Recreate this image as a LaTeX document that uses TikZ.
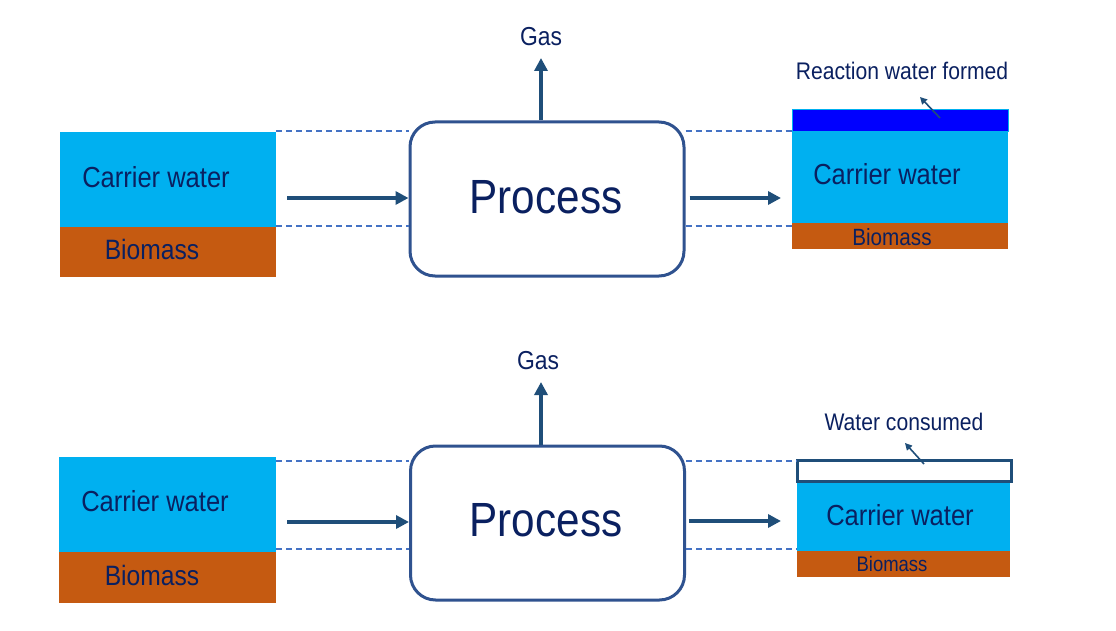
\documentclass[tikz,border=0pt]{standalone}
\usepackage{fontspec}
\setmainfont[FakeStretch=0.88]{Liberation Sans}
\usetikzlibrary{arrows.meta}
\definecolor{navy}{HTML}{0A2060}
\definecolor{arrcol}{HTML}{1F4E79}
\definecolor{procol}{HTML}{2F528F}
\definecolor{dashcol}{HTML}{4472C4}
\definecolor{water}{HTML}{00B0F0}
\definecolor{bio}{HTML}{C55A11}
\definecolor{rwater}{HTML}{0000FF}
\tikzset{
  fs/.style={font=\fontsize{#1}{#1}\selectfont},
  lbl/.style={text=navy, inner sep=0pt},
  layer/.style={draw=none, inner sep=0pt, anchor=north west},
  procbox/.style={draw=procol, line width=3pt, rounded corners=25pt, fill=white,
     minimum width=274pt, minimum height=154pt, inner sep=0pt, text=navy},
  proctext/.style={text=navy, inner sep=0pt, font=\fontsize{48}{48}\selectfont},
  arr/.style={draw=arrcol, line width=3.5pt, -{Triangle[length=13pt,width=13pt]}},
  thinarr/.style={draw=arrcol, line width=1.6pt, -{Triangle[length=7pt,width=7pt]}},
  dashln/.style={draw=dashcol, line width=1.4pt, dash pattern=on 6pt off 4pt},
}
\begin{document}
\begin{tikzpicture}[x=1pt,y=-1pt]
\useasboundingbox (0,0) rectangle (1116,631);
% ---------- top row ----------
\node[layer, fill=water, minimum width=216pt, minimum height=95pt] (cw1) at (60,132) {};
\node[layer, fill=bio, minimum width=216pt, minimum height=50pt] (bm1) at (60,227) {};
\node[lbl, fs=29] (tcw1) at (156,177) {Carrier water};
\node[lbl, fs=28] (tbm1) at (152,249) {Biomass};
\node[procbox] (p1) at (547,199) {};
\node[proctext] (pt1) at (546,197) {Process};
\coordinate (g1) at (541,58);
\node[lbl, fs=26] (gas1) at (541,37) {Gas};
\draw[arr] (p1.north -| g1) -- (g1);
\coordinate (a1s) at (287,198);
\draw[arr] (a1s) -- (a1s -| p1.west);
\node[layer, fill=rwater, draw=water, line width=0.6pt, minimum width=216pt, minimum height=22pt] (rw1) at (792,109) {};
\node[layer, fill=water, minimum width=216pt, minimum height=92pt] (cw2) at (792,131) {};
\node[layer, fill=bio, minimum width=216pt, minimum height=26pt] (bm2) at (792,223) {};
\node[lbl, fs=29] (tcw2) at (887,174) {Carrier water};
\node[lbl, fs=23.5] (tbm2) at (892,237) {Biomass};
\node[lbl, fs=24] (rwt) at (902,71) {Reaction water formed};
\coordinate (rws) at (940,118);
\coordinate (rwe) at (920,97);
\draw[thinarr] (rws) -- (rwe);
\coordinate (a2e) at (781,198);
\draw[arr] (p1.east |- a2e) ++(4,0) -- (a2e);
\coordinate (d1t) at (276,131);
\coordinate (d1b) at (276,226);
\draw[dashln] (d1t) -- (d1t -| p1.west);
\draw[dashln] (d1b) -- (d1b -| p1.west);
\draw[dashln] (d1t -| p1.east) -- (d1t -| cw2.west);
\draw[dashln] (d1b -| p1.east) -- (d1b -| cw2.west);
% ---------- bottom row ----------
\node[layer, fill=water, minimum width=217pt, minimum height=95pt] (cw3) at (59,457) {};
\node[layer, fill=bio, minimum width=217pt, minimum height=51pt] (bm3) at (59,552) {};
\node[lbl, fs=29] (tcw3) at (155,501) {Carrier water};
\node[lbl, fs=28] (tbm3) at (152,575) {Biomass};
\node[procbox] (p2) at (547.5,523) {};
\node[proctext] (pt2) at (546,520) {Process};
\coordinate (g2) at (541,382);
\node[lbl, fs=26] (gas2) at (538,361) {Gas};
\draw[arr] (p2.north -| g2) -- (g2);
\coordinate (a3s) at (287,522);
\draw[arr] (a3s) -- (a3s -| p2.west);
\node[layer, fill=water, minimum width=213pt, minimum height=68pt] (cw4) at (797,483) {};
\node[layer, fill=bio, minimum width=213pt, minimum height=26pt] (bm4) at (797,551) {};
\node[draw=arrcol, fill=white, line width=2.5pt, minimum width=214pt, minimum height=21pt, inner sep=0pt] (wc) at (904.5,471) {};
\node[lbl, fs=29] (tcw4) at (900,515) {Carrier water};
\node[lbl, fs=21] (tbm4) at (892,564) {Biomass};
\node[lbl, fs=24] (wct) at (904,422) {Water consumed};
\coordinate (wcs) at (924,464);
\coordinate (wce) at (905,443);
\draw[thinarr] (wcs) -- (wce);
\coordinate (a4e) at (781,521);
\draw[arr] (p2.east |- a4e) ++(3,0) -- (a4e);
\coordinate (d3t) at (276,461);
\coordinate (d3b) at (276,549);
\draw[dashln] (d3t) -- (d3t -| p2.west);
\draw[dashln] (d3b) -- (d3b -| p2.west);
\draw[dashln] (d3t -| p2.east) -- (d3t -| wc.west);
\draw[dashln] (d3b -| p2.east) -- (d3b -| cw4.west);
\end{tikzpicture}
\end{document}
